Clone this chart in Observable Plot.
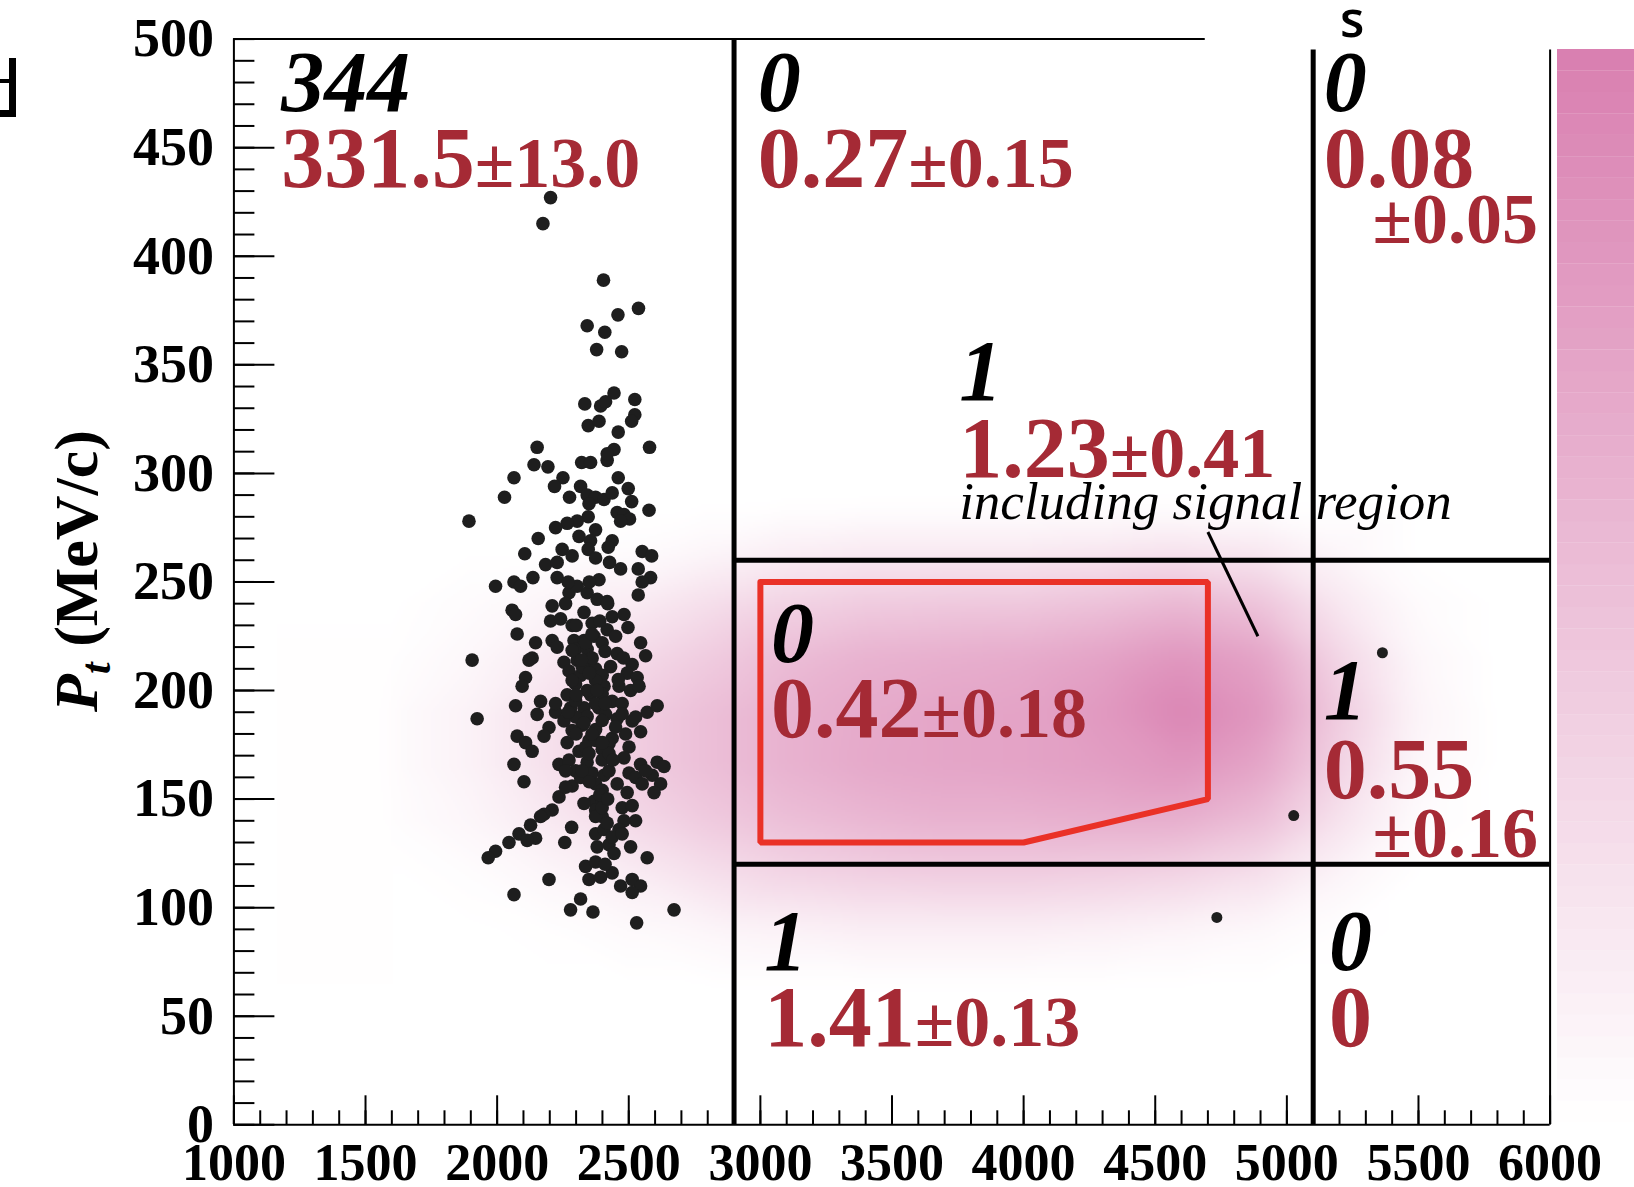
<!DOCTYPE html>
<html><head><meta charset="utf-8">
<script src="https://cdn.jsdelivr.net/npm/d3@7"></script>
<script src="https://cdn.jsdelivr.net/npm/@observablehq/plot@0.6"></script>
<style>
body{margin:0;background:#fff;}
#wrap{position:relative;width:1634px;height:1187px;overflow:hidden;background:#fff;}
#wrap > svg, #wrap > div{position:absolute;}
</style></head><body><div id="wrap"></div>
<script>
// ---------- axes ----------
const xTickValues = [1000,1500,2000,2500,3000,3500,4000,4500,5000,5500,6000];
const yTickValues = [0,50,100,150,200,250,300,350,400,450,500];
const xMinorTicks = d3.range(1000, 6001, 100);
const yMinorTicks = d3.range(0, 501, 10);

// ---------- region boundaries ----------
const regionXCuts = [2900, 5100];
const regionYCuts = [120, 260];

// ---------- events (scatter) ----------
const scatterX = [
2203,2174,2404,2537,2459,2342,2409,2378,2473,
2444,2333,2393,2412,2523,2346,2387,2523,2511,2460,2152,2579,2444,2418,2418,2140,2193,2321,2355,2064,2250,2218,2460,2028,2275,2317,2342,2374,2406,2437,2498,2511,1893,2577,2456,2482,2503,2469,2346,2304,2266,2222,2374,2311,2156,2355,2437,2247,2346,2422,2105,2285,2374,2551,2587,2427,2184,2228,2469,2536,
1994,2064,2089,2136,2228,2583,2551,2536,2273,2304,2342,2387,2380,2418,2209,2260,2057,2070,2203,2241,2285,2361,2437,2482,2418,2497,2076,2209,2228,2292,2330,2368,2399,2450,2545,2146,2298,2342,2456,2564,1905,2133,2121,2254,2304,2342,2374,2431,2513,2273,2317,2399,2494,2532,2108,2095,2298,2406,2463,2507,2539,2266,2355,2437,2070,2165,2222,2152,2279,2330,2387,2475,2570,2608,1924,2254,2342,2412,2456,2513,2197,2323,2374,2076,2108,2178,2266,2349,2437,2488,2545,2133,2311,2399,2501,
2064,2102,2235,2273,2298,2342,2361,2399,2406,2482,2501,2545,2608,2634,2589,2621,2596,2285,2235,2317,2456,2494,2368,2399,2475,2513,2374,2399,2209,2178,2165,2127,2526,2482,2463,2374,2406,2283,2083,2146,2114,2045,2257,2425,2444,2507,1994,1966,2570,2336,2374,2349,2393,2437,2197,2513,2545,2469,2513,2064,2317,2279,2364,2530,2672,
2336,2285,2361,2323,2285,2374,2342,2399,2298,2374,2298,2399,2450,2285,2374,2336,2425,2526,2222,2475,
2260,2323,2374,2399,2425,2526,2564,2374,2418,2437,2475,2399,2260,2551,2349,2425,2349,
2300,2330,2360,2390,2410,2320,2350,2380,2410,2300,2330,2360,2400,2440,2350,2390,2330,2420,2380,2410,2300,2270,2460,2480,2420,2350,2270
];
const scatterY = [
427,415,389,376,373,368,365,357,356,
337,332,331,333,334,322,324,327,324,319,312,312,311,306,309,304,303,305,305,298,298,294,298,289,289,294,290,289,288,291,293,287,278,283,282,281,279,278,280,278,277,275,274,271,270,269,269,265,265,266,263,262,261,264,262,259,258,259,256,256,
248,250,248,252,252,252,250,244,245,248,245,251,242,241,239,240,237,235,232,233,230,231,234,235,228,229,226,223,220,223,223,225,222,225,222,222,219,219,217,216,214,215,214,213,214,211,210,211,212,209,207,207,208,206,206,202,203,202,202,200,202,198,198,195,193,195,190,189,192,192,192,194,190,193,187,186,188,189,187,186,183,184,182,179,176,179,176,177,178,180,181,172,172,173,174,
166,158,166,168,163,167,162,168,161,169,162,166,167,165,161,157,153,156,151,160,157,153,149,149,146,147,145,142,145,143,142,138,140,140,136,134,136,137,134,132,131,130,130,129,125,128,126,123,123,119,121,113,114,116,113,113,110,110,107,106,104,99,98,93,99,
222,218.5,215,211,204.6,204.6,200,198.5,195.4,193.9,187.8,186.2,183.2,181.6,177,174,175.5,187.8,194,189.3,
163,163,157,154,163,160,163,142,139,132.5,134,146,155.5,157,171,171,286,
230,236,226,232,218,214,208,200,194,198,185,180,176,168,158,152,148,150,128,120,180,190,205,215,240,250,250
];
const isolatedX = [4734, 5026, 5363];
const isolatedY = [95.5, 142.4, 217.4];

// ---------- signal MC density ----------
const densityX = [1600,1900,2200,2500,2800,3100,3400,3700,4000,4300,4600,4900,5200,5500,5800];
const densityY = [285,265,240,215,190,165,140,115,90,65];
const densityRows = [
  [0,0,0,0,0,0,0,0,0,0,0,0,0,0,0],
  [0,0,0,0.02,0.06,0.12,0.15,0.15,0.15,0.17,0.20,0.17,0.06,0,0],
  [0,0.03,0.08,0.15,0.25,0.34,0.40,0.42,0.43,0.48,0.55,0.46,0.18,0.03,0],
  [0.01,0.06,0.16,0.28,0.40,0.52,0.60,0.63,0.66,0.72,0.82,0.72,0.32,0.06,0],
  [0.03,0.10,0.24,0.38,0.50,0.60,0.66,0.70,0.72,0.80,0.95,0.82,0.40,0.08,0],
  [0.03,0.10,0.24,0.38,0.50,0.60,0.67,0.70,0.72,0.76,0.82,0.70,0.34,0.06,0],
  [0.02,0.07,0.17,0.29,0.41,0.50,0.56,0.60,0.60,0.62,0.62,0.50,0.22,0.03,0],
  [0,0.02,0.07,0.14,0.24,0.32,0.36,0.38,0.38,0.36,0.32,0.24,0.08,0,0],
  [0,0,0.01,0.04,0.07,0.10,0.13,0.13,0.13,0.11,0.08,0.05,0.01,0,0],
  [0,0,0,0,0,0,0,0,0,0,0,0,0,0,0]
];

// ---------- signal region outline ----------
const signalBoxX = [3000,4700,4700,4000,3000,3000];
const signalBoxY = [250,250,150,130,130,250];

// ---------- cell annotations ----------
const observed    = ["344","0","0","1","0","1","1","0"];
const expected    = ["331.5","0.27","0.08","1.23","0.42","0.55","1.41","0"];
const expectedErr = ["13.0","0.15","0.05","0.41","0.18","0.16","0.13",""];
const errStacked  = [false,false,true,false,false,true,false,false];
const labelX = [1180,2990,5140,3755,3040,5140,3015,5160];
const countY = [467,467,467,334,213,187,71.5,71.5];
const estY   = [432,432,432,298.5,178.5,150.7,36.5,36.5];
const errY   = [null,null,406,null,null,123.3,null,null];
const noteText = "including signal region";
const noteX = 3755, noteY = 279;
const pointerX = [4700, 4890], pointerY = [273, 225];

// ---------- build tables ----------
const events = scatterX.map((x, i) => ({x, y: scatterY[i]}));
const isolated = isolatedX.map((x, i) => ({x, y: isolatedY[i]}));
const density = densityY.flatMap((y, i) => densityX.map((x, j) => ({x, y, v: densityRows[i][j]})));
const signalBox = signalBoxX.map((x, i) => ({x, y: signalBoxY[i]}));
const cells = observed.map((c, i) => ({
  count: c, est: expected[i], err: expectedErr[i], stacked: errStacked[i],
  x: labelX[i], yc: countY[i], ye: estY[i], yerr: errY[i]
}));
const inlineCells = cells.filter(d => !d.stacked);
const stackedCells = cells.filter(d => d.stacked);

const RED = "#a52a35";
const FONT = "Liberation Serif, Times New Roman, serif";
const colorOpts = {type: "linear", domain: [0, 1], range: ["#ffffff", "#d97fb0"], clamp: true};

const svg = Plot.plot({
  width: 1634, height: 1187,
  marginLeft: 233.4, marginRight: 84.4, marginTop: 38.6, marginBottom: 62.7,
  x: {domain: [1000, 6000], axis: null},
  y: {domain: [0, 500], axis: null},
  color: colorOpts,
  style: {fontFamily: FONT, background: "transparent", overflow: "visible", color: "#000"},
  marks: [
    Plot.raster(density, {x: "x", y: "y", fill: "v", interpolate: "barycentric", pixelSize: 2, blur: 5, imageRendering: "auto"}),
    // frame / axes lines
    Plot.ruleX([1000], {y1: 0, y2: 500, strokeWidth: 2}),
    Plot.ruleY([0], {x1: 1000, x2: 6000, strokeWidth: 2}),
    Plot.ruleY([500], {x1: 1000, x2: 4690, strokeWidth: 2}),
    Plot.ruleX([6000], {y1: 0, y2: 495, strokeWidth: 2}),
    // region boundaries
    Plot.ruleX([regionXCuts[0]], {y1: 0, y2: 500, strokeWidth: 5}),
    Plot.ruleX([regionXCuts[1]], {y1: 0, y2: 495, strokeWidth: 5}),
    Plot.ruleY(regionYCuts, {x1: regionXCuts[0], x2: 6000, strokeWidth: 5}),
    // ticks (inward)
    Plot.axisX({ticks: xMinorTicks, tickSize: -14, tickFormat: () => "", fill: "none", strokeWidth: 2, label: null}),
    Plot.axisX({ticks: xTickValues, tickSize: -29, tickFormat: () => "", fill: "none", strokeWidth: 2, label: null}),
    Plot.axisY({ticks: yMinorTicks, tickSize: -21, tickFormat: () => "", fill: "none", strokeWidth: 2, label: null}),
    Plot.axisY({ticks: yTickValues, tickSize: -41, tickFormat: () => "", fill: "none", strokeWidth: 2, label: null}),
    Plot.axisX({ticks: xTickValues, tickSize: 0, tickPadding: 18, tickFormat: d => String(d), fontSize: 52, fontWeight: "bold", label: null}),
    Plot.axisY({ticks: yTickValues, tickSize: 0, tickPadding: 20, tickFormat: d => String(d), fontSize: 54, fontWeight: "bold", label: null}),
    // signal region outline
    Plot.line(signalBox, {x: "x", y: "y", stroke: "#ea3127", strokeWidth: 6, strokeLinejoin: "miter"}),
    // pointer
    Plot.link([0], {x1: () => pointerX[0], y1: () => pointerY[0], x2: () => pointerX[1], y2: () => pointerY[1], strokeWidth: 3}),
    // events
    Plot.dot(events, {x: "x", y: "y", r: 6.8, fill: "#1e1e1e", stroke: null}),
    Plot.dot(isolated, {x: "x", y: "y", r: 5.5, fill: "#1e1e1e", stroke: null}),
    // observed counts
    Plot.text(cells, {x: "x", y: "yc", text: "count", textAnchor: "start", lineAnchor: "bottom", fontSize: 86, fontStyle: "italic", fontWeight: "bold", fill: "#000"}),
    // expected (inline)
    Plot.text(inlineCells, {x: "x", y: "ye", text: d => d.err ? d.est + "\u00b1" + d.err : d.est, textAnchor: "start", lineAnchor: "bottom", fontSize: 86, fontWeight: "bold", fill: RED}),
    // expected (stacked)
    Plot.text(stackedCells, {x: "x", y: "ye", text: "est", textAnchor: "start", lineAnchor: "bottom", fontSize: 86, fontWeight: "bold", fill: RED}),
    Plot.text(stackedCells, {x: () => 6000, y: "yerr", text: d => "\u00b1" + d.err, textAnchor: "end", lineAnchor: "bottom", dx: -12, fontSize: 72, fontWeight: "bold", fill: RED}),
    // note
    Plot.text([noteText], {x: () => noteX, y: () => noteY, text: d => d, textAnchor: "start", lineAnchor: "bottom", fontSize: 53, fontStyle: "italic", fill: "#000"}),
    // y label
    Plot.text(["Pt (MeV/c)"], {frameAnchor: "left", textAnchor: "middle", text: d => d, rotate: -90, dx: -157, dy: -11, fontSize: 62, fontWeight: "bold", fill: "#000"})
  ]
});
svg.style.left = "0px"; svg.style.top = "0px";

// rich text: smaller "±err" parts and the P_t label
d3.select(svg).selectAll("text").each(function() {
  const t = this.textContent;
  const sel = d3.select(this);
  const i = t.indexOf("\u00b1");
  if (i > 0 && this.childElementCount === 0) {
    sel.text(null);
    sel.append("tspan").text(t.slice(0, i));
    sel.append("tspan").attr("font-size", 72).text(t.slice(i));
  } else if (t === "Pt (MeV/c)") {
    sel.text(null);
    sel.append("tspan").attr("font-style", "italic").text("P");
    sel.append("tspan").attr("font-style", "italic").attr("font-size", 42).attr("dy", 13).text("t");
    sel.append("tspan").attr("dy", -13).text(" (MeV/c)");
  }
});

const wrap = document.getElementById("wrap");
wrap.appendChild(svg);

// colour bar (palette of the density)
const levels = d3.range(0, 50).map(i => (i + 0.5) / 50);
const bar = Plot.plot({
  width: 77, height: 1073, margin: 0,
  x: {axis: null}, y: {axis: null, domain: [0, 1]},
  color: colorOpts,
  marks: [Plot.rectY(levels, {y1: d => d - 0.0101, y2: d => d + 0.0101, fill: d => d})]
});
bar.style.left = "1557px"; bar.style.top = "49px";
wrap.appendChild(bar);

// fragments at the crop edges of the original figure
const s = document.createElement("div");
s.textContent = "s";
s.style.cssText = "left:1340px;top:-7px;font:600 50px/50px 'Open Sans',sans-serif;color:#000;";
wrap.appendChild(s);
const frag = document.createElement("div");
frag.style.cssText = "left:0;top:58px;width:9px;height:52px;border-right:7px solid #000;border-bottom:7px solid #000;";
wrap.appendChild(frag);
const stub = document.createElement("div");
stub.style.cssText = "left:0;top:79px;width:9px;height:4px;background:#000;";
wrap.appendChild(stub);
</script></body></html>
